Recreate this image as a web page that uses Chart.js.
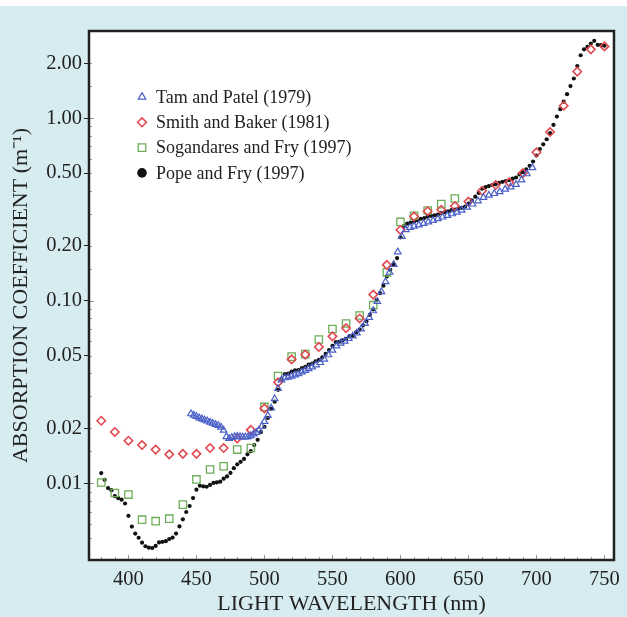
<!DOCTYPE html>
<html>
<head>
<meta charset="utf-8">
<script src="https://cdn.jsdelivr.net/npm/chart.js@4.4.0/dist/chart.umd.min.js"></script>
<style>
html,body{margin:0;padding:0;background:#fff;}
#wrap{position:absolute;left:0;top:6px;width:627px;height:611px;background:#d6ecf0;}
canvas{display:block;}
</style>
</head>
<body>
<div id="wrap"><canvas id="chart" width="627" height="611"></canvas></div>
<script>
// --- data (m^-1 vs nm) ---
const tamX = [446,448,450,452,454,456,458,460,462,464,466,468,470,472,474,476,478,480,482,484,486,488,490,492,494,496,498,500,502.5,505,507.5,510,512.5,515,517.5,520,522.5,525,527.5,530,532.5,535,538,541,544,547,550,553,556,559,562,565,568,571,574,577,580,583,586,589,592,595,598,601,604,607,610,613.5,617,620.5,624,627.5,631,634.5,638,641.5,645,649,653,657,661,665,669,673,677,681,685,689,693,697];
const tamY = [0.0240,0.0236,0.0232,0.0228,0.0225,0.0222,0.0219,0.0216,0.0213,0.0210,0.0207,0.0203,0.0195,0.0180,0.0176,0.0178,0.0180,0.0181,0.0180,0.0179,0.0179,0.0180,0.0182,0.0186,0.0190,0.0196,0.0205,0.0218,0.0235,0.0258,0.0290,0.0330,0.0368,0.0378,0.0381,0.0386,0.0392,0.0398,0.0407,0.0415,0.0424,0.0433,0.0445,0.0458,0.0478,0.0505,0.0535,0.0565,0.0585,0.0600,0.0620,0.0640,0.0665,0.0700,0.0750,0.0810,0.0880,0.0990,0.112,0.127,0.143,0.158,0.185,0.225,0.245,0.252,0.256,0.260,0.265,0.270,0.275,0.281,0.287,0.293,0.299,0.305,0.313,0.325,0.338,0.352,0.368,0.378,0.386,0.395,0.408,0.420,0.433,0.458,0.495,0.535];

const smithX = [380,390,400,410,420,430,440,450,460,470,480,490,500,510,520,530,540,550,560,570,580,590,600,610,620,630,640,650,660,670,680,690,700,710,720,730,740,750];
const smithY = [0.0220,0.0191,0.0171,0.0162,0.0153,0.0144,0.0145,0.0145,0.0156,0.0156,0.0176,0.0196,0.0257,0.0357,0.0477,0.0507,0.0558,0.0638,0.0708,0.0799,0.108,0.157,0.244,0.289,0.309,0.315,0.330,0.349,0.400,0.430,0.445,0.500,0.650,0.839,1.169,1.799,2.380,2.470];

const sogX = [380,390,400,410,420,430,440,450,460,470,480,490,500,510,520,530,540,550,560,570,580,590,600,610,620,630,640];
const sogY = [0.0101,0.00885,0.00867,0.00632,0.00620,0.00640,0.00764,0.0105,0.0119,0.0124,0.0153,0.0156,0.0262,0.0387,0.0494,0.0510,0.0613,0.0700,0.0750,0.0830,0.0945,0.143,0.270,0.292,0.312,0.338,0.363];

const popeX = [380,382.5,385,387.5,390,392.5,395,397.5,400,402.5,405,407.5,410,412.5,415,417.5,420,422.5,425,427.5,430,432.5,435,437.5,440,442.5,445,447.5,450,452.5,455,457.5,460,462.5,465,467.5,470,472.5,475,477.5,480,482.5,485,487.5,490,492.5,495,497.5,500,502.5,505,507.5,510,512.5,515,517.5,520,522.5,525,527.5,530,532.5,535,537.5,540,542.5,545,547.5,550,552.5,555,557.5,560,562.5,565,567.5,570,572.5,575,577.5,580,582.5,585,587.5,590,592.5,595,597.5,600,602.5,605,607.5,610,612.5,615,617.5,620,622.5,625,627.5,630,632.5,635,637.5,640,642.5,645,647.5,650,652.5,655,657.5,660,662.5,665,667.5,670,672.5,675,677.5,680,682.5,685,687.5,690,692.5,695,697.5,700,702.5,705,707.5,710,712.5,715,717.5,720,722.5,725,727.5,730,732.5,735,737.5,740,742.5,745,747.5,750];
const popeY = [0.01137,0.01044,0.00941,0.00917,0.00851,0.00829,0.00813,0.00775,0.00663,0.00579,0.00530,0.00503,0.00473,0.00452,0.00444,0.00442,0.00454,0.00474,0.00478,0.00482,0.00495,0.00504,0.00530,0.00580,0.00635,0.00696,0.00751,0.00830,0.00922,0.00969,0.00962,0.00957,0.00979,0.01005,0.01011,0.0102,0.0106,0.0109,0.0114,0.0121,0.0127,0.0131,0.0136,0.0144,0.0150,0.0162,0.0173,0.0191,0.0204,0.0228,0.0256,0.0280,0.0325,0.0372,0.0396,0.0399,0.0409,0.0416,0.0417,0.0428,0.0434,0.0447,0.0452,0.0466,0.0474,0.0489,0.0511,0.0537,0.0565,0.0593,0.0596,0.0606,0.0619,0.0640,0.0642,0.0672,0.0695,0.0733,0.0772,0.0836,0.0896,0.1008,0.1100,0.1208,0.1357,0.1477,0.1580,0.1711,0.2224,0.2565,0.2644,0.2678,0.2707,0.2755,0.2810,0.2834,0.2887,0.2917,0.2938,0.2960,0.3018,0.3052,0.3090,0.3131,0.3150,0.3197,0.3225,0.3275,0.3400,0.3544,0.3714,0.3891,0.4102,0.4183,0.4245,0.4301,0.4340,0.4419,0.4477,0.4518,0.4578,0.4659,0.4730,0.4914,0.5060,0.5234,0.5480,0.5785,0.6240,0.6774,0.7184,0.7661,0.8285,0.9180,1.0200,1.1190,1.2310,1.3530,1.4980,1.6480,1.93,2.21,2.38,2.46,2.56,2.65,2.52,2.51,2.49];

const seriesNames = ['Tam and Patel (1979)','Smith and Baker (1981)','Sogandares and Fry (1997)','Pope and Fry (1997)'];
const yTickLabels = [0.01,0.02,0.05,0.1,0.2,0.5,1,2];
const xTickLabels = [400,450,500,550,600,650,700,750];

const FONT = '"Liberation Serif", "Times New Roman", serif';
const INK = '#222';

function pts(xs, ys){ return xs.map((x,i)=>({x, y: ys[i]})); }
function isLabelY(v){ return yTickLabels.some(t=>Math.abs(t-v)/t<1e-6); }

// white plot area + black frame + small inward ticks
const frame = {
  id:'frame',
  beforeDatasetsDraw(chart){
    const {ctx, chartArea:a} = chart;
    ctx.save(); ctx.fillStyle='#fff'; ctx.fillRect(a.left,a.top,a.width,a.height); ctx.restore();
  },
  afterDatasetsDraw(chart){
    const {ctx, chartArea:a, scales} = chart;
    ctx.save();
    ctx.strokeStyle='#999'; ctx.lineWidth=1;
    scales.x.ticks.forEach(t=>{
      const px=Math.round(scales.x.getPixelForValue(t.value))+0.5;
      const len = xTickLabels.includes(t.value)?5:3;
      ctx.beginPath(); ctx.moveTo(px,a.bottom); ctx.lineTo(px,a.bottom-len); ctx.stroke();
    });
    scales.y.ticks.forEach(t=>{
      if(t.value<=scales.y.min || t.value>=scales.y.max) return;
      const py=Math.round(scales.y.getPixelForValue(t.value))+0.5;
      ctx.beginPath(); ctx.moveTo(a.left,py); ctx.lineTo(a.left+(t.major?5:3),py); ctx.stroke();
    });
    ctx.strokeStyle=INK; ctx.lineWidth=2.5;
    ctx.strokeRect(a.left,a.top,a.width,a.height);
    ctx.restore();
  }
};

// legend drawn inside the plot, top-left
const legendRadius = [4.4,4.4,5.4,4.8];
const insetLegend = {
  id:'insetLegend',
  afterDraw(chart){
    const {ctx, chartArea:a} = chart;
    ctx.save();
    ctx.font = '18px '+FONT; ctx.textBaseline='middle'; ctx.textAlign='left';
    chart.data.datasets.forEach((ds,i)=>{
      const x=a.left+53, y=a.top+66+i*25.3;
      ctx.fillStyle = ds.backgroundColor; ctx.strokeStyle = ds.borderColor; ctx.lineWidth = ds.borderWidth;
      Chart.helpers.drawPoint(ctx,{pointStyle:ds.pointStyle,radius:legendRadius[i],borderWidth:ds.borderWidth,rotation:0},x,y);
      ctx.fillStyle=INK;
      ctx.fillText(ds.label,x+14,y+1);
    });
    ctx.restore();
  }
};

new Chart(document.getElementById('chart'),{
  type:'scatter',
  data:{datasets:[
    {label:seriesNames[0],data:pts(tamX,tamY),pointStyle:'triangle',pointRadius:3.8,borderWidth:1.2,borderColor:'#4a5ec8',backgroundColor:'rgba(255,255,255,0)'},
    {label:seriesNames[1],data:pts(smithX,smithY),pointStyle:'rectRot',pointRadius:4.2,borderWidth:1.6,borderColor:'#e04850',backgroundColor:'rgba(255,255,255,0)'},
    {label:seriesNames[2],data:pts(sogX,sogY),pointStyle:'rect',pointRadius:5.2,borderWidth:1.3,borderColor:'#6cad58',backgroundColor:'rgba(255,255,255,0)'},
    {label:seriesNames[3],data:pts(popeX,popeY),pointStyle:'circle',pointRadius:2.1,borderWidth:0,borderColor:'#111',backgroundColor:'#111'}
  ]},
  options:{
    responsive:false, animation:false,
    layout:{padding:{left:0,top:25,right:9,bottom:0}},
    plugins:{legend:{display:false},tooltip:{enabled:false}},
    scales:{
      x:{
        type:'linear', min:371, max:757,
        afterFit(s){ s.height=57; },
        border:{display:false},
        grid:{display:true,drawOnChartArea:false,drawTicks:false},
        ticks:{stepSize:10,includeBounds:false,autoSkip:false,maxRotation:0,padding:7,color:INK,
          font:{family:FONT,size:20.5},
          callback:v=>xTickLabels.includes(v)?String(v):''},
        title:{display:true,text:'LIGHT WAVELENGTH (nm)',color:INK,font:{family:FONT,size:22,lineHeight:1.2},padding:{top:0,bottom:0}}
      },
      y:{
        type:'logarithmic', min:0.0038, max:3.0,
        afterFit(s){ s.width=89; },
        border:{display:false},
        grid:{display:true,drawOnChartArea:false,drawTicks:true,tickLength:5,
          color:c=>(c.tick && isLabelY(c.tick.value))?INK:'rgba(0,0,0,0)'},
        ticks:{autoSkip:false,padding:2,color:INK,font:{family:FONT,size:20.5},
          callback:v=>isLabelY(v)?v.toFixed(2):''},
        title:{display:true,text:'ABSORPTION COEFFICIENT (m\u207B\u00B9)',color:INK,font:{family:FONT,size:22,lineHeight:1.2},padding:{top:8,bottom:0}}
      }
    }
  },
  plugins:[frame,insetLegend]
});
</script>
</body>
</html>
